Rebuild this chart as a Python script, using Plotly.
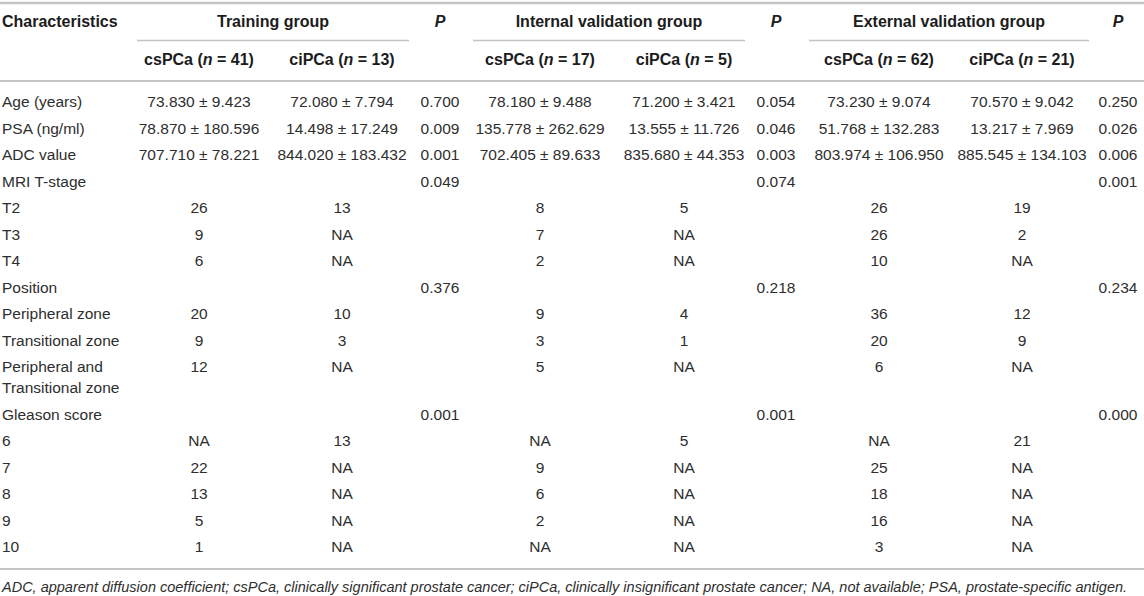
import plotly.graph_objects as go

# first column, one entry per body row
characteristics = [
    "Age (years)", "PSA (ng/ml)", "ADC value", "MRI T-stage", "T2", "T3", "T4",
    "Position", "Peripheral zone", "Transitional zone",
    "Peripheral and<br>Transitional zone", "Gleason score",
    "6", "7", "8", "9", "10",
]

train_cs = ["73.830 ± 9.423", "78.870 ± 180.596", "707.710 ± 78.221", "",
            "26", "9", "6", "", "20", "9", "12", "", "NA", "22", "13", "5", "1"]
train_ci = ["72.080 ± 7.794", "14.498 ± 17.249", "844.020 ± 183.432", "",
            "13", "NA", "NA", "", "10", "3", "NA", "", "13", "NA", "NA", "NA", "NA"]
train_p = ["0.700", "0.009", "0.001", "0.049", "", "", "", "0.376",
           "", "", "", "0.001", "", "", "", "", ""]

int_cs = ["78.180 ± 9.488", "135.778 ± 262.629", "702.405 ± 89.633", "",
          "8", "7", "2", "", "9", "3", "5", "", "NA", "9", "6", "2", "NA"]
int_ci = ["71.200 ± 3.421", "13.555 ± 11.726", "835.680 ± 44.353", "",
          "5", "NA", "NA", "", "4", "1", "NA", "", "5", "NA", "NA", "NA", "NA"]
int_p = ["0.054", "0.046", "0.003", "0.074", "", "", "", "0.218",
         "", "", "", "0.001", "", "", "", "", ""]

ext_cs = ["73.230 ± 9.074", "51.768 ± 132.283", "803.974 ± 106.950", "",
          "26", "26", "10", "", "36", "20", "6", "", "NA", "25", "18", "16", "3"]
ext_ci = ["70.570 ± 9.042", "13.217 ± 7.969", "885.545 ± 134.103", "",
          "19", "2", "NA", "", "12", "9", "NA", "", "21", "NA", "NA", "NA", "NA"]
ext_p = ["0.250", "0.026", "0.006", "0.001", "", "", "", "0.234",
         "", "", "", "0.000", "", "", "", "", ""]

groups = ["Training group", "Internal validation group", "External validation group"]
sub_labels = ["csPCa", "ciPCa", "csPCa", "ciPCa", "csPCa", "ciPCa"]
sub_n = [41, 13, 17, 5, 62, 21]

footnote = ("ADC, apparent diffusion coefficient; csPCa, clinically significant prostate "
            "cancer; ciPCa, clinically insignificant prostate cancer; NA, not available; "
            "PSA, prostate-specific antigen.")

# layout (pixels, page is 1144 x 596)
W, H = 1144, 596
FONT = "Liberation Sans, Arial, Helvetica, sans-serif"
TXT = "#2e2e2e"
HEAD = "#1c1c1c"
RULE = "#c4c4c4"
LABEL_X = 2
COL_X = [199, 342, 440, 540, 684, 776, 879, 1022, 1118]   # data columns
GROUP_SPAN = [(137, 409), (473, 745), (809, 1089)]
P_X = [COL_X[2], COL_X[5], COL_X[8]]
Y_TOP, Y_HEAD1, Y_UNDER, Y_HEAD2, Y_RULE = 3, 23, 40.5, 61, 81
Y_FIRST, ROW_H, LINE_H = 103.5, 26.5, 21
BODY_SIZE, HEAD_SIZE, FOOT_SIZE = 15.5, 16, 14.5

columns = [train_cs, train_ci, train_p, int_cs, int_ci, int_p, ext_cs, ext_ci, ext_p]

# row centres (first line of each label)
row_y = []
y = Y_FIRST
for lab in characteristics:
    row_y.append(y)
    y += ROW_H + lab.count("<br>") * LINE_H
y_bottom = row_y[-1] + 20.5
y_foot = y_bottom + 19


def text_trace(xs, ys, texts, pos, size, color):
    return go.Scatter(x=xs, y=ys, text=texts, mode="text", textposition=pos,
                      textfont=dict(family=FONT, size=size, color=color),
                      cliponaxis=False, hoverinfo="skip", showlegend=False)


fig = go.Figure()

# first column, wrapped labels split into lines
lx, ly, lt = [], [], []
for lab, yy in zip(characteristics, row_y):
    for k, part in enumerate(lab.split("<br>")):
        lx.append(LABEL_X)
        ly.append(yy + k * LINE_H)
        lt.append(part)
fig.add_trace(text_trace(lx, ly, lt, "middle right", BODY_SIZE, TXT))

for cx, vals in zip(COL_X, columns):
    fig.add_trace(text_trace([cx] * len(vals), row_y, vals, "middle center", BODY_SIZE, TXT))

# header row 1
fig.add_trace(text_trace([LABEL_X], [Y_HEAD1], ["<b>Characteristics</b>"],
                         "middle right", HEAD_SIZE, HEAD))
gx = [(a + b) / 2 for a, b in GROUP_SPAN]
fig.add_trace(text_trace(gx + P_X, [Y_HEAD1] * 6,
                         [f"<b>{g}</b>" for g in groups] + ["<b><i>P</i></b>"] * 3,
                         "middle center", HEAD_SIZE, HEAD))

# header row 2
sub_x = [COL_X[i] for i in (0, 1, 3, 4, 6, 7)]
sub_t = [f"<b>{s} (<i>n</i> = {n})</b>" for s, n in zip(sub_labels, sub_n)]
fig.add_trace(text_trace(sub_x, [Y_HEAD2] * len(sub_x), sub_t, "middle center", HEAD_SIZE, HEAD))

# footnote
fig.add_trace(text_trace([LABEL_X], [y_foot], [f"<i>{footnote}</i>"],
                         "middle right", FOOT_SIZE, TXT))

# rules
shapes = [
    dict(type="line", x0=0, x1=W, y0=Y_TOP, y1=Y_TOP, line=dict(color=RULE, width=2.5)),
    dict(type="line", x0=0, x1=W, y0=Y_RULE, y1=Y_RULE, line=dict(color=RULE, width=2)),
    dict(type="line", x0=0, x1=W, y0=y_bottom, y1=y_bottom, line=dict(color=RULE, width=2)),
]
for a, b in GROUP_SPAN:
    shapes.append(dict(type="line", x0=a, x1=b, y0=Y_UNDER, y1=Y_UNDER,
                       line=dict(color=RULE, width=1.5)))
for s in shapes:
    s.update(xref="x", yref="y", layer="below")

fig.update_layout(
    width=W, height=H, margin=dict(l=0, r=0, t=0, b=0),
    paper_bgcolor="white", plot_bgcolor="white", shapes=shapes,
    xaxis=dict(range=[0, W], visible=False, fixedrange=True),
    yaxis=dict(range=[H, 0], visible=False, fixedrange=True),
)

# page body has an 8px default margin; drop it so the figure fills the window
fig.write_html("out.html", config={"displayModeBar": False},
               post_script="document.body.style.margin='0';document.body.style.overflow='hidden';")
